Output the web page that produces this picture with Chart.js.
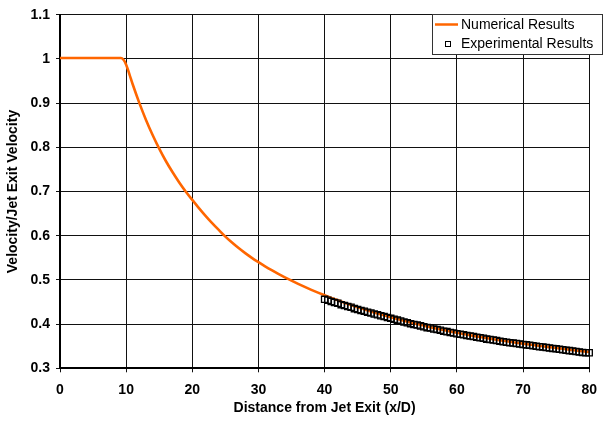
<!DOCTYPE html>
<html>
<head>
<meta charset="utf-8">
<script src="https://cdn.jsdelivr.net/npm/chart.js@4.4.0/dist/chart.umd.min.js"></script>
<style>
  html, body { margin: 0; padding: 0; background: #fff; }
  #wrap { width: 606px; height: 421px; }
</style>
</head>
<body>
<div id="wrap"><canvas id="Chart1" width="606" height="421"></canvas></div>
<script>
// numerical centreline velocity decay
let numX = [0, 1, 2, 3, 4, 5, 6, 7, 8, 9, 9.2, 9.6, 10, 10.5, 11, 12, 13, 14, 15, 16, 17, 18, 19, 20,
    21, 22, 23, 24, 25, 26, 27, 28, 29, 30, 31, 32, 33, 34, 35, 36, 37, 38, 39, 40,
    41, 42, 43, 44, 45, 46, 47, 48, 49, 50, 51, 52, 53, 54, 55, 56, 57, 58, 59, 60,
    61, 62, 63, 64, 65, 66, 67, 68, 69, 70, 71, 72, 73, 74, 75, 76, 77, 78, 79, 80];
let numY = [1.002, 1.002, 1.002, 1.002, 1.002, 1.002, 1.002, 1.002, 1.002, 1.002, 1.002, 0.998, 0.987, 0.965, 0.942, 0.900, 0.862, 0.828, 0.797, 0.769, 0.744, 0.721, 0.700, 0.681,
    0.6625, 0.645, 0.6285, 0.613, 0.598, 0.5845, 0.572, 0.5605, 0.5498, 0.540, 0.5307, 0.5219, 0.5136, 0.5057, 0.4982, 0.4910, 0.4841, 0.4775, 0.4712, 0.4652,
    0.4594, 0.4538, 0.4484, 0.4432, 0.4382, 0.4334, 0.4287, 0.4242, 0.4198, 0.4156, 0.4115, 0.4076, 0.4038, 0.4001, 0.3966, 0.3931, 0.3898, 0.3866, 0.3835, 0.3805,
    0.3776, 0.3749, 0.3722, 0.3696, 0.3671, 0.3647, 0.3624, 0.3601, 0.3579, 0.3558, 0.3538, 0.3518, 0.3498, 0.3479, 0.3460, 0.3441, 0.3422, 0.3404, 0.3386, 0.3368];

// measured points
let expX = [40, 40.5, 41, 41.5, 42, 42.5, 43, 43.5, 44, 44.5, 45, 45.5, 46, 46.5, 47, 47.5, 48, 48.5, 49, 49.5,
    50, 50.5, 51, 51.5, 52, 52.5, 53, 53.5, 54, 54.5, 55, 55.5, 56, 56.5, 57, 57.5, 58, 58.5, 59, 59.5,
    60, 60.5, 61, 61.5, 62, 62.5, 63, 63.5, 64, 64.5, 65, 65.5, 66, 66.5, 67, 67.5, 68, 68.5, 69, 69.5,
    70, 70.5, 71, 71.5, 72, 72.5, 73, 73.5, 74, 74.5, 75, 75.5, 76, 76.5, 77, 77.5, 78, 78.5, 79, 79.5, 80];
let expY = [0.456, 0.454, 0.451, 0.449, 0.447, 0.444, 0.442, 0.440, 0.438, 0.435, 0.433, 0.431, 0.429, 0.427, 0.425, 0.423, 0.421, 0.419, 0.417, 0.415,
    0.413, 0.411, 0.409, 0.407, 0.405, 0.403, 0.401, 0.399, 0.398, 0.396, 0.394, 0.392, 0.391, 0.389, 0.388, 0.386, 0.384, 0.383, 0.381, 0.380,
    0.378, 0.377, 0.376, 0.374, 0.373, 0.372, 0.370, 0.369, 0.368, 0.366, 0.365, 0.364, 0.363, 0.361, 0.360, 0.359, 0.358, 0.357, 0.356, 0.355,
    0.354, 0.353, 0.352, 0.351, 0.350, 0.349, 0.348, 0.347, 0.346, 0.345, 0.344, 0.343, 0.342, 0.341, 0.340, 0.339, 0.338, 0.337, 0.336, 0.335, 0.335];

let xTicks = [0, 10, 20, 30, 40, 50, 60, 70, 80];
let yTicks = [0.3, 0.4, 0.5, 0.6, 0.7, 0.8, 0.9, 1, 1.1];
let seriesNames = ['Numerical Results', 'Experimental Results'];

const ORANGE = '#ff6600';
const FONT = 'Liberation Sans, Arial, sans-serif';

let numData = numX.map((x, i) => ({x: x, y: numY[i]}));
let expData = expX.map((x, i) => ({x: x, y: expY[i]}));

// boxed legend in the top right corner
const boxLegend = {
    id: 'boxLegend',
    afterDraw(chart) {
        const c = chart.ctx;
        const x0 = 432.5, y0 = 14.5, w = 170, h = 40;
        c.save();
        c.fillStyle = '#fff';
        c.fillRect(x0, y0, w, h);
        c.strokeStyle = '#333';
        c.lineWidth = 1;
        c.strokeRect(x0, y0, w, h);

        c.strokeStyle = ORANGE;
        c.lineWidth = 2.5;
        c.beginPath();
        c.moveTo(435, 24.5);
        c.lineTo(458, 24.5);
        c.stroke();

        c.strokeStyle = '#000';
        c.lineWidth = 1;
        c.strokeRect(445.5, 41.5, 5, 5);

        c.fillStyle = '#000';
        c.font = '14px ' + FONT;
        c.textBaseline = 'middle';
        c.fillText(seriesNames[0], 461, 25);
        c.fillText(seriesNames[1], 461, 44.5);
        c.restore();
    }
};

let config = {
    type: 'line',
    data: {
        datasets: [{
            label: seriesNames[1],
            data: expData,
            showLine: false,
            pointStyle: 'rect',
            pointRadius: 4.4,
            pointBorderWidth: 1.3,
            pointBorderColor: '#000',
            pointBackgroundColor: 'rgba(255,255,255,0)',
            clip: false
        }, {
            label: seriesNames[0],
            data: numData,
            borderColor: ORANGE,
            borderWidth: 2.6,
            pointRadius: 0,
            cubicInterpolationMode: 'monotone',
            fill: false
        }]
    },
    options: {
        responsive: false,
        animation: false,
        layout: {padding: {top: 14.7, right: 7, bottom: 0, left: 0}},
        plugins: {
            legend: {display: false},
            tooltip: {enabled: false}
        },
        scales: {
            x: {
                type: 'linear',
                min: 0,
                max: 80,
                afterBuildTicks: s => { s.ticks = xTicks.map(v => ({value: v})); },
                afterFit: s => { s.height = 52.7; },
                grid: {color: '#111', lineWidth: 1, tickLength: 4},
                border: {color: '#000', width: 2},
                ticks: {
                    color: '#000',
                    padding: 9,
                    maxRotation: 0,
                    font: {family: FONT, size: 14, weight: 'bold'}
                },
                title: {
                    display: true,
                    text: 'Distance from Jet Exit (x/D)',
                    color: '#000',
                    padding: {top: 0, bottom: 4.6},
                    font: {family: FONT, size: 14, weight: 'bold'}
                }
            },
            y: {
                min: 0.3,
                max: 1.1,
                afterBuildTicks: s => { s.ticks = yTicks.map(v => ({value: v})); },
                afterFit: s => { s.width = 60; },
                grid: {color: '#111', lineWidth: 1, tickLength: 4},
                border: {color: '#000', width: 2},
                ticks: {
                    color: '#000',
                    padding: 6,
                    callback: v => String(Math.round(v * 10) / 10),
                    font: {family: FONT, size: 14, weight: 'bold'}
                },
                title: {
                    display: true,
                    text: 'Velocity/Jet Exit Velocity',
                    color: '#000',
                    padding: {top: 5, bottom: 0},
                    font: {family: FONT, size: 14, weight: 'bold'}
                }
            }
        }
    },
    plugins: [boxLegend]
};

let ctx = document.getElementById('Chart1');
let myChart = new Chart(ctx, config);
</script>
</body>
</html>
